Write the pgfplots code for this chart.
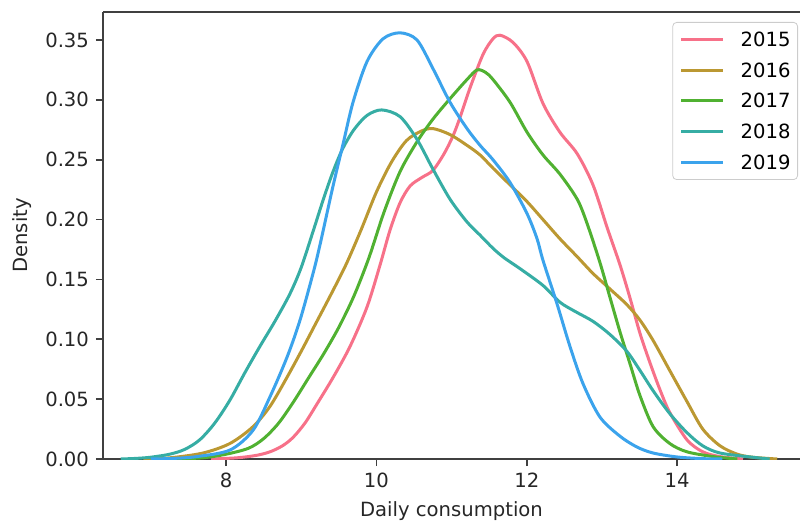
\documentclass[border=0pt]{standalone}
\usepackage{fontspec}
\setmainfont{DejaVu Sans}
\usepackage{pgfplots}
\pgfplotsset{compat=1.18}

\definecolor{c15}{HTML}{F77189}
\definecolor{c16}{HTML}{BB9832}
\definecolor{c17}{HTML}{50B131}
\definecolor{c18}{HTML}{36ADA4}
\definecolor{c19}{HTML}{3BA3EC}

\begin{document}
\begin{tikzpicture}[font=\fontsize{9.8}{11.8}\selectfont]
\begin{axis}[scale only axis, width=348.5pt, height=223.5pt,
  xmin=6.364, xmax=15.633, ymin=0, ymax=0.3734,
  axis y line*=left,
  axis line style={-, black!75, line width=0.8pt},
  xtick pos=left, tick align=outside,
  major tick length=3.5pt,
  tick style={black!75, line width=0.8pt},
  xtick={8,10,12,14},
  ytick={0,0.05,...,0.351},
  yticklabel style={/pgf/number format/.cd, fixed, fixed zerofill, precision=2},
  /pgf/number format/assume math mode=true,
  ticklabel style={text=black!85},
  xlabel={Daily consumption}, ylabel={Density},
  label style={text=black!85},
  every axis plot/.append style={line width=1.5pt, smooth, tension=0.5},
  legend style={at={(1,1)}, anchor=north east, xshift=-1pt, yshift=-5pt,
    draw=black!20, rounded corners=2pt, fill=white,
    inner xsep=3.5pt, inner ysep=5pt, row sep=8.4pt,
    nodes={inner sep=0pt, text height=7pt, text depth=0pt},
    /tikz/every odd column/.append style={column sep=8pt}},
  legend cell align=left,
  legend image code/.code={\draw[#1] (0pt,0pt) -- (21pt,0pt);}]

\addplot[c15] coordinates {(7.8,0)(8.146,0.001)(8.4,0.003)(8.585,0.006)(8.75,0.011)
  (8.891,0.018)(9.05,0.030)(9.21,0.046)(9.423,0.068)(9.649,0.094)(9.875,0.127)
  (10.048,0.162)(10.18,0.191)(10.314,0.214)(10.447,0.228)(10.6,0.235)(10.75,0.241)
  (10.9,0.255)(11.019,0.270)(11.11,0.285)(11.245,0.310)(11.418,0.338)(11.55,0.351)
  (11.644,0.354)(11.816,0.348)(12.003,0.332)(12.215,0.297)(12.44,0.273)(12.67,0.255)
  (12.88,0.229)(13.07,0.193)(13.24,0.162)(13.37,0.135)(13.505,0.105)(13.64,0.080)
  (13.77,0.058)(13.90,0.039)(14.13,0.016)(14.34,0.006)(14.57,0.002)(14.875,0)};
\addlegendentry{2015}
\addplot[c16] coordinates {(6.9,0)(7.255,0.001)(7.694,0.005)(8.053,0.013)
  (8.359,0.027)(8.585,0.044)(8.8,0.067)(9.0,0.090)(9.2,0.114)(9.4,0.138)
  (9.6,0.163)(9.8,0.192)(10.0,0.223)(10.2,0.248)(10.4,0.266)(10.6,0.274)(10.753,0.276)
  (10.979,0.271)(11.205,0.262)(11.378,0.254)(11.55,0.243)(11.777,0.229)(12.003,0.215)
  (12.215,0.200)(12.44,0.184)(12.67,0.169)(12.88,0.155)(13.106,0.142)(13.33,0.129)
  (13.505,0.116)(13.68,0.099)(13.90,0.074)(14.13,0.048)(14.34,0.025)(14.57,0.011)
  (14.80,0.004)(15.0,0.0015)(15.33,0)};
\addlegendentry{2016}
\addplot[c17] coordinates {(7.3,0)(7.694,0.001)(8.0,0.004)(8.3,0.009)(8.5,0.017)
  (8.7,0.030)(8.9,0.048)(9.1,0.068)(9.3,0.088)(9.5,0.110)(9.7,0.136)(9.9,0.168)
  (10.1,0.206)(10.314,0.240)(10.54,0.265)(10.753,0.284)(10.979,0.301)(11.205,0.317)
  (11.338,0.325)(11.45,0.323)(11.55,0.317)(11.777,0.298)(12.003,0.273)(12.215,0.254)
  (12.44,0.238)(12.67,0.217)(12.80,0.197)(12.973,0.164)(13.106,0.135)(13.24,0.106)
  (13.37,0.080)(13.505,0.053)(13.68,0.027)(13.90,0.013)(14.13,0.006)(14.48,0.002)
  (14.80,0)};
\addlegendentry{2017}
\addplot[c18] coordinates {(6.6,0)(6.8,0.0005)(7.0,0.0015)(7.25,0.004)(7.45,0.008)
  (7.65,0.016)(7.85,0.030)(8.05,0.049)(8.25,0.072)(8.45,0.094)(8.65,0.115)
  (8.85,0.138)(9.0,0.160)(9.157,0.190)(9.3,0.218)(9.423,0.240)(9.55,0.259)
  (9.7,0.275)(9.875,0.287)(10.07,0.2916)(10.314,0.286)(10.54,0.267)(10.753,0.242)
  (10.979,0.217)(11.205,0.198)(11.378,0.187)(11.55,0.176)(11.7,0.168)(11.91,0.159)
  (12.215,0.145)(12.44,0.131)(12.65,0.123)(12.88,0.115)(13.106,0.104)(13.33,0.090)
  (13.505,0.074)(13.68,0.057)(13.90,0.038)(14.13,0.022)(14.34,0.011)(14.57,0.005)
  (15.0,0.0015)(15.23,0)};
\addlegendentry{2018}
\addplot[c19] coordinates {(7.0,0)(7.3,0.0005)(7.61,0.002)(8.053,0.0075)
  (8.359,0.024)(8.585,0.052)(8.811,0.085)(8.984,0.116)(9.157,0.155)(9.25,0.179)
  (9.423,0.228)(9.556,0.263)(9.689,0.298)(9.875,0.332)(10.088,0.351)(10.314,0.356)
  (10.54,0.350)(10.753,0.326)(10.979,0.298)(11.205,0.276)(11.378,0.262)(11.55,0.250)
  (11.777,0.231)(12.003,0.205)(12.136,0.184)(12.215,0.166)(12.40,0.130)(12.574,0.094)
  (12.747,0.063)(12.973,0.035)(13.24,0.019)(13.465,0.010)(13.68,0.005)(14.0,0.0017)
  (14.34,0.0003)(14.6,0)};
\addlegendentry{2019}
\end{axis}
\pgfresetboundingbox
\path[use as bounding box] ([xshift=-51.5pt,yshift=-32.5pt]current axis.south west)
  rectangle ([yshift=6pt]current axis.north east);
\end{tikzpicture}
\end{document}
